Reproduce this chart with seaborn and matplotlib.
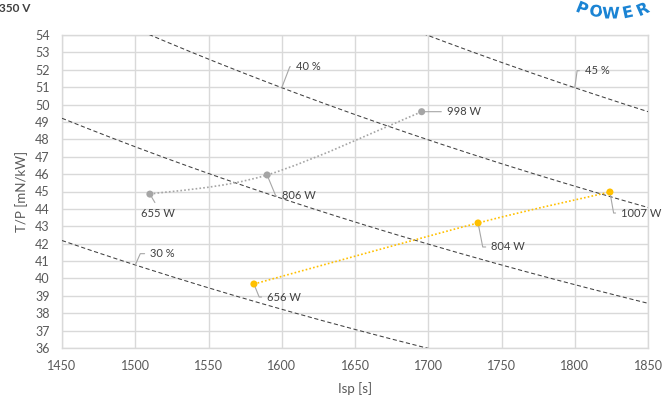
import numpy as np
import pandas as pd
import matplotlib
matplotlib.use("Agg")
import matplotlib.pyplot as plt
import matplotlib.patheffects as pe
from matplotlib.path import Path
from matplotlib.patches import PathPatch
import seaborn as sns

G0 = 9.81
DPI = 100

# Operating points, first thruster configuration (grey)
isp_grey = [1510, 1590, 1695.5]
tp_grey = [44.85, 45.95, 49.59]
power_grey = ["655 W", "806 W", "998 W"]

# Operating points, second thruster configuration (gold)
isp_gold = [1581, 1734, 1824]
tp_gold = [39.68, 43.19, 44.97]
power_gold = ["656 W", "804 W", "1007 W"]

# Constant-efficiency guide lines and the Isp where their tag sits
efficiencies = [0.30, 0.35, 0.40, 0.45]
eff_tags = {0.30: ("30 %", 1500), 0.40: ("40 %", 1600), 0.45: ("45 %", 1800)}

x_ticks = list(range(1450, 1851, 50))
y_ticks = list(range(36, 55))

GRID = "#d9d9d9"
TEXT = "#595959"
LABEL = "#404040"
GREY = "#a5a5a5"
GOLD = "#ffc000"
LEADER = "#a6a6a6"
FONT = "Lato"


def thrust_to_power(eta, isp):
    """T/P in mN/kW for a given efficiency and specific impulse."""
    return 2.0 * eta / (G0 * np.asarray(isp, dtype=float)) * 1e6


def smooth_path(xs, ys):
    """Catmull-Rom style Bezier path through the points (spreadsheet smoothing)."""
    pts = np.column_stack([xs, ys]).astype(float)
    n = len(pts)
    verts, codes = [pts[0]], [Path.MOVETO]
    for i in range(n - 1):
        p0 = pts[max(i - 1, 0)]
        p1 = pts[i]
        p2 = pts[i + 1]
        p3 = pts[min(i + 2, n - 1)]
        verts += [p1 + (p2 - p0) / 6.0, p2 - (p3 - p1) / 6.0, p2]
        codes += [Path.CURVE4] * 3
    return Path(verts, codes)


def leader_label(ax, text, xy, offset_px, angle=None, relpos=(0, 0.5),
                 ha="left", shrink_b=2.5, size=8):
    off = (offset_px[0] * 72 / DPI, offset_px[1] * 72 / DPI)
    cs = "arc3" if angle is None else f"angle,angleA=0,angleB={angle},rad=0"
    ax.annotate(text, xy=xy, xytext=off, textcoords="offset points",
                ha=ha, va="center", fontsize=size, color=LABEL, family=FONT,
                arrowprops=dict(arrowstyle="-", color=LEADER, lw=0.8,
                                shrinkA=1.5, shrinkB=shrink_b,
                                connectionstyle=cs, relpos=relpos),
                zorder=6)


sns.set_theme(style="white")
plt.rcParams["font.family"] = [FONT, "DejaVu Sans"]

fig = plt.figure(figsize=(6.62, 3.98), dpi=DPI)
ax = fig.add_axes([62 / 662, 1 - 348 / 398, 586 / 662, 313 / 398])

# Efficiency guide lines
isp_grid = np.linspace(1450, 1850, 300)
eff_df = pd.concat([
    pd.DataFrame({"Isp": isp_grid, "TP": thrust_to_power(e, isp_grid), "eta": e})
    for e in efficiencies
])
sns.lineplot(data=eff_df, x="Isp", y="TP", units="eta", estimator=None,
             color="#404040", lw=0.75, dashes=False, ax=ax, zorder=3)
for line in ax.lines:
    line.set_dashes((4, 2.5))

# Smoothed dotted series lines
for xs, ys, col in [(isp_grey, tp_grey, GREY), (isp_gold, tp_gold, GOLD)]:
    ax.add_patch(PathPatch(smooth_path(xs, ys), fill=False, edgecolor=col,
                           lw=1.2, linestyle=(0, (1, 1.3)), zorder=4))

pts = pd.DataFrame({
    "Isp": isp_grey + isp_gold,
    "TP": tp_grey + tp_gold,
    "series": ["grey"] * 3 + ["gold"] * 3,
})
sns.scatterplot(data=pts, x="Isp", y="TP", hue="series",
                palette={"grey": GREY, "gold": GOLD}, s=26, linewidth=0,
                legend=False, ax=ax, zorder=5)

# Power labels
leader_label(ax, power_grey[0], (isp_grey[0], tp_grey[0]), (8, -19),
             relpos=(0.5, 1), ha="center")
leader_label(ax, power_grey[1], (isp_grey[1], tp_grey[1]), (15, -21), angle=-67.5)
leader_label(ax, power_grey[2], (isp_grey[2], tp_grey[2]), (25, 0))
leader_label(ax, power_gold[0], (isp_gold[0], tp_gold[0]), (13, -13), angle=-68)
leader_label(ax, power_gold[1], (isp_gold[1], tp_gold[1]), (13, -24), angle=-79)
leader_label(ax, power_gold[2], (isp_gold[2], tp_gold[2]), (11, -21), angle=-80)

# Efficiency tags
eff_offsets = {0.30: ((14.7, 11.3), 66), 0.40: ((14, 21), 69), 0.45: ((10, 17), 82)}
for eta, (txt, isp_at) in eff_tags.items():
    off, ang = eff_offsets[eta]
    leader_label(ax, txt, (isp_at, float(thrust_to_power(eta, isp_at))), off,
                 angle=ang, shrink_b=0)

ax.set_xlim(1450, 1850)
ax.set_ylim(36, 54)
ax.set_xticks(x_ticks)
ax.set_yticks(y_ticks)
ax.grid(True, color=GRID, lw=1)
ax.set_axisbelow(True)
for sp in ax.spines.values():
    sp.set_color(GRID)
    sp.set_linewidth(1)
ax.tick_params(length=0, pad=9, labelsize=9, labelcolor=TEXT)

ax.set_xlabel("Isp [s]", fontsize=9.5, color=TEXT)
ax.set_ylabel("T/P [mN/kW]", fontsize=9.5, color=TEXT)
ax.xaxis.set_label_coords(0.5, -0.108)
ax.yaxis.set_label_coords(-0.058, 0.5)

# Header text and logo
fig.text(-1 / 662, 1 - 9 / 398, "350 V", fontsize=8.5, color=LABEL,
         ha="left", va="center", weight="bold")
logo = [("P", 582, 9, -22), ("O", 596, 12, -10), ("W", 611, 14, 0),
        ("E", 628, 13, 12), ("R", 643, 10, 24)]
for ch, px, py, rot in logo:
    fig.text(px / 662, 1 - py / 398, ch, fontsize=11.5, color="#1b84d4",
             weight="heavy", ha="center", va="center", rotation=rot,
             family="DejaVu Sans",
             path_effects=[pe.withStroke(linewidth=2.5, foreground="white")])

fig.savefig("out.png", dpi=DPI)
